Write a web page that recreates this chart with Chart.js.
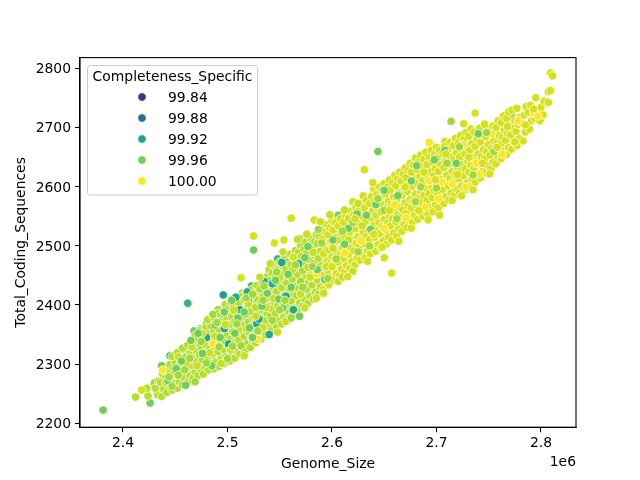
<!DOCTYPE html>
<html>
<head>
<meta charset="utf-8">
<style>
  html, body { margin: 0; padding: 0; background: #fff; }
  canvas { display: block; }
</style>
<script src="https://cdn.jsdelivr.net/npm/chart.js@4/dist/chart.umd.min.js"></script>
</head>
<body>
<canvas id="myChart" width="640" height="480"></canvas>
<script>
// flat lists: genome size in kb, coding sequences, genome size in kb, ...
const blue9988 = [2497,2378, 2523,2418, 2541,2446, 2553,2462, 2572,2496, 2445,2292];
const teal9990 = [2486,2362, 2508,2398, 2531,2432, 2562,2484, 2581,2507, 2470,2345];
const teal9992 = [2496,2417, 2511,2410, 2519,2396, 2534,2424, 2458,2308, 2475,2345,
  2504,2372, 2547,2470, 2566,2486, 2579,2490, 2592,2522, 2559,2482, 2541,2437, 2487,2352];
const green9994 = [2462,2403, 2445,2314, 2469,2334, 2484,2366, 2492,2378, 2509,2412,
  2523,2432, 2537,2446, 2548,2478, 2571,2498, 2590,2512, 2604,2528, 2612,2540, 2454,2296,
  2478,2330, 2500,2350, 2518,2380, 2530,2408, 2556,2456, 2578,2475, 2469,2300, 2436,2262];
const green9996 = [2381,2222, 2525,2493, 2644,2660, 2426,2234, 2437,2297, 2450,2268, 2458,2325,
  2468,2356, 2480,2368, 2489,2342, 2503,2395, 2515,2362, 2527,2402, 2538,2390, 2549,2452,
  2560,2472, 2568,2426, 2583,2482, 2595,2490, 2606,2552, 2618,2505, 2627,2530, 2640,2545,
  2652,2575, 2668,2590, 2680,2620, 2693,2640, 2705,2610, 2716,2650, 2730,2660, 2472,2312,
  2494,2322, 2456,2284, 2512,2344, 2545,2414, 2575,2452, 2600,2470, 2635,2512, 2660,2602];
const yg9997 = [2430,2268, 2441,2285, 2448,2305, 2455,2270, 2463,2318, 2474,2360, 2483,2310,
  2491,2392, 2499,2336, 2506,2384, 2514,2420, 2520,2350, 2529,2376, 2536,2418, 2544,2366,
  2551,2434, 2558,2398, 2565,2445, 2573,2412, 2580,2460, 2588,2438, 2597,2480, 2605,2458,
  2613,2518, 2621,2476, 2630,2562, 2638,2495, 2648,2585, 2658,2540, 2672,2628, 2688,2572,
  2700,2655, 2714,2711, 2726,2642, 2742,2676, 2772,2722, 2470,2322, 2569,2512];

// main body of the cloud, left half
const lime9998 = [2412,2244, 2424,2246, 2423,2259, 2433,2248, 2431,2259, 2434,2271,
  2437,2245, 2439,2257, 2436,2269, 2438,2283, 2442,2252, 2444,2264, 2441,2276, 2443,2289, 2445,2299,
  2447,2256, 2449,2267, 2446,2279, 2448,2292, 2450,2303, 2447,2313,
  2452,2259, 2454,2270, 2451,2284, 2453,2295, 2455,2307, 2452,2319,
  2457,2265, 2459,2276, 2456,2288, 2458,2299, 2460,2312, 2457,2327,
  2462,2269, 2464,2280, 2461,2293, 2463,2304, 2465,2317, 2462,2332,
  2467,2276, 2469,2287, 2466,2298, 2468,2310, 2470,2323, 2467,2337, 2469,2349,
  2472,2281, 2474,2292, 2471,2304, 2473,2316, 2475,2329, 2472,2342, 2474,2357,
  2477,2283, 2479,2295, 2476,2307, 2478,2320, 2480,2332, 2477,2346, 2479,2361,
  2482,2290, 2484,2301, 2481,2313, 2483,2326, 2485,2338, 2482,2351, 2484,2365, 2481,2375,
  2487,2292, 2489,2304, 2486,2317, 2488,2329, 2490,2342, 2487,2355, 2489,2368, 2486,2380,
  2492,2296, 2494,2309, 2491,2321, 2493,2334, 2495,2346, 2492,2359, 2494,2372, 2491,2386,
  2497,2301, 2499,2313, 2496,2325, 2498,2338, 2500,2350, 2497,2363, 2499,2375, 2496,2389, 2498,2401,
  2502,2305, 2504,2317, 2501,2330, 2503,2342, 2505,2355, 2502,2367, 2504,2380, 2501,2393, 2503,2405,
  2507,2310, 2509,2322, 2506,2335, 2508,2347, 2510,2359, 2507,2372, 2509,2385, 2506,2397, 2508,2409,
  2512,2317, 2514,2329, 2511,2341, 2513,2353, 2515,2366, 2512,2378, 2514,2390, 2511,2403, 2513,2415,
  2517,2323, 2519,2335, 2516,2347, 2518,2359, 2520,2371, 2517,2384, 2519,2396, 2516,2409, 2518,2421,
  2522,2328, 2524,2340, 2521,2352, 2523,2364, 2525,2377, 2522,2389, 2524,2401, 2521,2414, 2523,2426,
  2527,2336, 2529,2348, 2526,2360, 2528,2372, 2530,2384, 2527,2396, 2529,2409, 2526,2421, 2528,2433,
  2532,2342, 2534,2354, 2531,2366, 2533,2378, 2535,2390, 2532,2403, 2534,2415, 2531,2427, 2533,2439,
  2537,2350, 2539,2362, 2536,2374, 2538,2386, 2540,2398, 2537,2411, 2539,2423, 2536,2435, 2538,2448, 2540,2460,
  2542,2357, 2544,2369, 2541,2381, 2543,2393, 2545,2405, 2542,2418, 2544,2430, 2541,2442, 2543,2454, 2545,2466,
  2547,2362, 2549,2374, 2546,2386, 2548,2398, 2550,2411, 2547,2423, 2549,2435, 2546,2448, 2548,2460, 2550,2473,
  2552,2368, 2554,2380, 2551,2392, 2553,2405, 2555,2417, 2552,2429, 2554,2441, 2551,2453, 2553,2466, 2555,2479,
  2557,2376, 2559,2388, 2556,2400, 2558,2412, 2560,2424, 2557,2437, 2559,2449, 2556,2461, 2558,2473, 2560,2486,
  2562,2383, 2564,2395, 2561,2407, 2563,2419, 2565,2431, 2562,2444, 2564,2456, 2561,2468, 2563,2480, 2565,2492,
  2567,2392, 2569,2404, 2566,2416, 2568,2428, 2570,2440, 2567,2452, 2569,2464, 2566,2477, 2568,2489, 2570,2501,
  2572,2398, 2574,2410, 2571,2422, 2573,2434, 2575,2446, 2572,2458, 2574,2471, 2571,2483, 2573,2495, 2575,2507,
  2577,2403, 2579,2415, 2576,2427, 2578,2439, 2580,2451, 2577,2464, 2579,2476, 2576,2488, 2578,2500, 2580,2513,
  2582,2410, 2584,2422, 2581,2434, 2583,2446, 2585,2458, 2582,2470, 2584,2483, 2581,2495, 2583,2507, 2585,2519,
  2587,2419, 2589,2431, 2586,2443, 2588,2455, 2590,2467, 2587,2479, 2589,2491, 2586,2504, 2588,2516, 2590,2528];

// main body of the cloud, right half
const lime9999 = [2418,2256, 2592,2427, 2594,2439, 2591,2451, 2593,2463, 2595,2475, 2592,2487, 2594,2500, 2591,2512, 2593,2524, 2595,2536,
  2597,2434, 2599,2446, 2596,2458, 2598,2470, 2600,2482, 2597,2494, 2599,2507, 2596,2519, 2598,2531, 2600,2543,
  2602,2442, 2604,2454, 2601,2466, 2603,2478, 2605,2490, 2602,2503, 2604,2515, 2601,2527, 2603,2539,
  2607,2449, 2609,2461, 2606,2473, 2608,2485, 2610,2497, 2607,2510, 2609,2522, 2606,2534, 2608,2546,
  2612,2455, 2614,2467, 2611,2479, 2613,2491, 2615,2503, 2612,2516, 2614,2528, 2611,2540, 2613,2552,
  2620,2575, 2617,2462, 2619,2474, 2616,2486, 2618,2498, 2620,2510, 2617,2523, 2619,2535, 2616,2547, 2618,2559,
  2622,2468, 2624,2480, 2621,2492, 2623,2504, 2625,2516, 2622,2529, 2624,2541, 2621,2553, 2623,2565,
  2627,2476, 2629,2488, 2626,2500, 2628,2512, 2630,2524, 2627,2537, 2629,2549, 2626,2561, 2628,2573, 2630,2585,
  2632,2480, 2634,2492, 2631,2504, 2633,2516, 2635,2528, 2632,2541, 2634,2553, 2631,2565, 2633,2577,
  2637,2487, 2639,2499, 2636,2511, 2638,2523, 2640,2535, 2637,2548, 2639,2560, 2636,2572, 2638,2584, 2640,2596,
  2642,2491, 2644,2503, 2641,2515, 2643,2527, 2645,2539, 2642,2552, 2644,2564, 2641,2576, 2643,2588, 2645,2600,
  2647,2497, 2649,2509, 2646,2521, 2648,2533, 2650,2545, 2647,2558, 2649,2570, 2646,2582, 2648,2594, 2650,2606,
  2652,2503, 2654,2515, 2651,2527, 2653,2539, 2655,2551, 2652,2564, 2654,2576, 2651,2588, 2653,2600, 2655,2612,
  2657,2454, 2657,2510, 2659,2522, 2656,2534, 2658,2546, 2660,2558, 2657,2571, 2659,2583, 2656,2595, 2658,2607, 2660,2619,
  2662,2517, 2664,2529, 2661,2541, 2663,2553, 2665,2565, 2662,2578, 2664,2590, 2661,2602, 2663,2614, 2665,2625,
  2667,2525, 2669,2537, 2666,2549, 2668,2561, 2670,2573, 2667,2586, 2669,2598, 2666,2610, 2668,2622, 2670,2632,
  2672,2531, 2674,2543, 2671,2555, 2673,2567, 2675,2579, 2672,2592, 2674,2604, 2671,2616, 2673,2628, 2675,2640,
  2677,2540, 2679,2552, 2676,2564, 2678,2576, 2680,2588, 2677,2601, 2679,2613, 2676,2625, 2678,2637, 2680,2649,
  2682,2545, 2684,2557, 2681,2569, 2683,2581, 2685,2593, 2682,2606, 2684,2618, 2681,2630, 2683,2642, 2685,2654,
  2687,2550, 2689,2562, 2686,2574, 2688,2586, 2690,2598, 2687,2611, 2689,2623, 2686,2635, 2688,2647, 2690,2659,
  2694,2675, 2692,2553, 2694,2565, 2691,2577, 2693,2589, 2695,2601, 2692,2614, 2694,2626, 2691,2638, 2693,2650, 2695,2662,
  2708,2677, 2697,2558, 2699,2570, 2696,2582, 2698,2594, 2700,2606, 2697,2619, 2699,2631, 2696,2643, 2698,2655, 2700,2667,
  2702,2565, 2704,2577, 2701,2589, 2703,2601, 2705,2613, 2702,2626, 2704,2638, 2701,2650, 2703,2662,
  2707,2572, 2709,2584, 2706,2596, 2708,2608, 2710,2620, 2707,2633, 2709,2645, 2706,2657, 2708,2669,
  2712,2578, 2714,2590, 2711,2602, 2713,2614, 2715,2626, 2712,2639, 2714,2651, 2711,2663, 2713,2675,
  2717,2585, 2719,2597, 2716,2609, 2718,2621, 2720,2633, 2717,2646, 2719,2658, 2716,2670, 2718,2682,
  2726,2707, 2722,2590, 2724,2602, 2721,2614, 2723,2626, 2725,2638, 2722,2651, 2724,2663, 2721,2675, 2723,2687,
  2737,2725, 2727,2595, 2729,2607, 2726,2619, 2728,2631, 2730,2643, 2727,2656, 2729,2668, 2726,2680, 2728,2692,
  2732,2601, 2734,2613, 2731,2625, 2733,2637, 2735,2649, 2732,2662, 2734,2674, 2731,2686, 2733,2698,
  2737,2608, 2739,2620, 2736,2632, 2738,2644, 2740,2656, 2737,2669, 2739,2681, 2736,2693,
  2742,2615, 2744,2627, 2741,2639, 2743,2651, 2745,2663, 2742,2676, 2744,2688, 2741,2699,
  2747,2624, 2749,2636, 2746,2648, 2748,2660, 2750,2672, 2747,2685, 2749,2697, 2746,2706,
  2752,2630, 2754,2642, 2751,2654, 2753,2666, 2755,2678, 2752,2691, 2754,2703,
  2757,2639, 2759,2651, 2756,2663, 2758,2675, 2760,2687, 2757,2700, 2759,2712,
  2762,2648, 2764,2660, 2761,2672, 2763,2684, 2765,2696, 2762,2709, 2764,2720,
  2767,2655, 2769,2667, 2766,2679, 2768,2691, 2770,2703, 2767,2716, 2769,2727,
  2772,2664, 2774,2676, 2771,2688, 2773,2700, 2775,2712, 2772,2730,
  2777,2670, 2779,2682, 2776,2694, 2778,2706, 2780,2718, 2777,2733,
  2783,2678, 2785,2693, 2782,2708, 2784,2722, 2786,2736,
  2789,2698, 2791,2712, 2788,2726, 2790,2738, 2795,2751, 2794,2716, 2797,2728,
  2799,2712, 2802,2722, 2800,2735, 2803,2745, 2807,2743, 2807,2761, 2809,2763, 2809,2793, 2811,2788,
  // stragglers above the upper edge
  2525,2517, 2545,2505, 2554,2510, 2561,2547, 2583,2544, 2513,2446, 2563,2481, 2639,2607, 2631,2629, 2650,2480];

// finished assemblies
const yellow10000 = [2438,2290, 2486,2335, 2529,2342, 2585,2452, 2612,2488, 2628,2508, 2671,2548,
  2689,2566, 2702,2580, 2705,2608, 2693,2675, 2715,2605, 2728,2600, 2741,2622, 2753,2690, 2763,2655,
  2778,2712, 2793,2725, 2797,2720, 2600,2500, 2650,2530, 2693,2610, 2660,2570, 2725,2672, 2738,2640];

// second pass over the body, so the colours interleave
const tealOver = [2497,2360, 2512,2392, 2528,2368, 2543,2436, 2556,2415, 2480,2345, 2520,2408, 2568,2470,
  2508,2413, 2519,2422, 2535,2440, 2552,2472, 2563,2392, 2530,2376, 2501,2334, 2540,2350];
const lime9998b = [2441,2269, 2449,2284, 2453,2312, 2461,2301, 2466,2329, 2471,2297, 2476,2352, 2483,2319,
  2488,2347, 2494,2301, 2498,2367, 2503,2324, 2506,2391, 2511,2358, 2516,2314, 2520,2402, 2523,2345, 2527,2381,
  2531,2447, 2534,2362, 2537,2396, 2541,2470, 2544,2411, 2548,2354, 2550,2446, 2553,2490, 2556,2372, 2559,2428,
  2562,2459, 2567,2511, 2570,2418, 2574,2395, 2576,2520, 2579,2447, 2582,2489, 2585,2411, 2589,2541, 2592,2420,
  2595,2465, 2598,2553, 2601,2496, 2606,2440, 2610,2447, 2612,2561, 2616,2510, 2620,2457, 2625,2572, 2629,2534];
const greenOver = [2456,2305, 2472,2352, 2488,2366, 2493,2345, 2504,2408, 2507,2352, 2516,2388, 2524,2345,
  2533,2398, 2546,2442, 2553,2395, 2561,2430, 2574,2480, 2586,2460, 2601,2510, 2616,2530, 2633,2552, 2642,2570,
  2663,2585, 2676,2610, 2698,2646, 2719,2640, 2740,2690, 2443,2272, 2451,2292, 2460,2264, 2465,2340, 2476,2318,
  2485,2297, 2497,2388, 2510,2378, 2521,2361, 2538,2420, 2549,2410, 2558,2452, 2569,2381, 2577,2499, 2593,2443,
  2612,2503, 2624,2554, 2637,2528, 2650,2594, 2681,2636, 2708,2662];
const ygOver = [2444,2278, 2459,2290, 2475,2338, 2490,2370, 2505,2330, 2518,2412, 2535,2432, 2550,2392, 2570,2440,
  2590,2505, 2610,2525, 2625,2490, 2650,2560, 2685,2600, 2710,2640, 2735,2620, 2755,2660, 2447,2262, 2453,2281,
  2464,2310, 2469,2270, 2480,2302, 2486,2384, 2492,2329, 2500,2309, 2509,2368, 2513,2331, 2524,2418, 2529,2356,
  2534,2408, 2543,2374, 2547,2456, 2555,2408, 2561,2378, 2565,2468, 2572,2430, 2581,2465, 2587,2528, 2596,2445,
  2604,2478, 2620,2540, 2636,2500, 2644,2580, 2662,2546, 2680,2575, 2700,2598, 2722,2668, 2748,2692];
const lime9999b = [2600,2465, 2615,2448, 2622,2546, 2634,2474, 2640,2520, 2648,2498, 2655,2560, 2664,2508, 2670,2600,
  2676,2530, 2683,2560, 2688,2625, 2692,2544, 2699,2612, 2703,2552, 2709,2656, 2715,2577, 2720,2621, 2724,2585,
  2731,2650, 2735,2595, 2744,2640, 2751,2622, 2758,2667, 2768,2702, 2775,2676, 2785,2705, 2793,2732];

const xTickValues = [2400000, 2500000, 2600000, 2700000, 2800000];
const yTickValues = [2200, 2300, 2400, 2500, 2600, 2700, 2800];
const legendLabels = ['99.84', '99.88', '99.92', '99.96', '100.00'];
const legendColors = ['#46327e', '#2f6c8e', '#1fa088', '#6ece58', '#fde725'];

const toPoints = (flat) => {
    const pts = [];
    for (let i = 0; i < flat.length; i += 2) {
        pts.push({ x: flat[i] * 1000, y: flat[i + 1] });
    }
    return pts;
};

// draw order, bottom to top
const layers = [
    [blue9988, '#2f6c8e'],
    [teal9990, '#26828e'],
    [teal9992, '#1fa088'],
    [green9994, '#35b779'],
    [green9996, '#6ece58'],
    [yg9997, '#a0da39'],
    [lime9998, '#b5de2b'],
    [lime9999, '#d5e21a'],
    [yellow10000, '#fde725'],
    [tealOver, '#22a884'],
    [lime9998b, '#c8e020'],
    [greenOver, '#6ece58'],
    [ygOver, '#a0da39'],
    [lime9999b, '#d5e21a']
];

const frameAndLegend = {
    id: 'frameAndLegend',
    afterDraw(chart) {
        const { ctx, chartArea: a } = chart;
        ctx.save();
        ctx.strokeStyle = '#000';
        ctx.lineWidth = 1.1;
        ctx.strokeRect(a.left, a.top, a.right - a.left, a.bottom - a.top);

        ctx.fillStyle = '#000';
        ctx.font = '13.9px "DejaVu Sans"';
        ctx.textBaseline = 'middle';
        ctx.textAlign = 'right';
        ctx.fillText('1e6', 576, 462);

        // legend box
        ctx.beginPath();
        ctx.roundRect(87.5, 65.5, 170, 129.5, 3);
        ctx.fillStyle = 'rgba(255,255,255,0.8)';
        ctx.fill();
        ctx.strokeStyle = '#cccccc';
        ctx.lineWidth = 1;
        ctx.stroke();

        ctx.fillStyle = '#000';
        ctx.textAlign = 'center';
        ctx.fillText('Completeness_Specific', 172.5, 77);
        ctx.textAlign = 'left';
        legendLabels.forEach((label, i) => {
            const y = 97 + i * 21;
            ctx.beginPath();
            ctx.arc(142, y, 4.2, 0, Math.PI * 2);
            ctx.fillStyle = legendColors[i];
            ctx.fill();
            ctx.strokeStyle = '#fff';
            ctx.lineWidth = 0.7;
            ctx.stroke();
            ctx.fillStyle = '#000';
            ctx.fillText(label, 168, y + 1);
        });
        ctx.restore();
    }
};

const tickFont = { family: 'DejaVu Sans', size: 13.9 };

new Chart(document.getElementById('myChart').getContext('2d'), {
    type: 'scatter',
    data: {
        datasets: layers.map(([flat, color], i) => ({
            data: toPoints(flat),
            order: layers.length - i,
            pointRadius: 4.2,
            pointBackgroundColor: color,
            pointBorderColor: '#fff',
            pointBorderWidth: 0.7
        }))
    },
    options: {
        responsive: false,
        animation: false,
        layout: { padding: { top: 57.6, right: 64, left: 0, bottom: 0 } },
        plugins: { legend: { display: false }, tooltip: { enabled: false } },
        scales: {
            x: {
                type: 'linear',
                min: 2358900,
                max: 2833500,
                afterBuildTicks: (scale) => { scale.ticks = xTickValues.map((value) => ({ value })); },
                afterFit: (scale) => { scale.height = 52.8; },
                ticks: {
                    color: '#000',
                    font: tickFont,
                    maxRotation: 0,
                    padding: 3,
                    callback: (v) => (v / 1e6).toFixed(1)
                },
                grid: { drawOnChartArea: false, tickLength: 5, tickColor: '#000', tickWidth: 1.1 },
                border: { color: '#000', width: 1.1 },
                title: { display: true, text: 'Genome_Size', color: '#000', font: tickFont, padding: { top: 0, bottom: 7 } }
            },
            y: {
                type: 'linear',
                min: 2193,
                max: 2819,
                afterBuildTicks: (scale) => { scale.ticks = yTickValues.map((value) => ({ value })); },
                afterFit: (scale) => { scale.width = 80; },
                ticks: {
                    color: '#000',
                    font: tickFont,
                    padding: 4,
                    labelOffset: 1,
                    callback: (v) => String(v)
                },
                grid: { drawOnChartArea: false, tickLength: 5, tickColor: '#000', tickWidth: 1.1 },
                border: { color: '#000', width: 1.1 },
                title: { display: true, text: 'Total_Coding_Sequences', color: '#000', font: tickFont, padding: { top: 13, bottom: 0 } }
            }
        }
    },
    plugins: [frameAndLegend]
});
</script>
</body>
</html>
